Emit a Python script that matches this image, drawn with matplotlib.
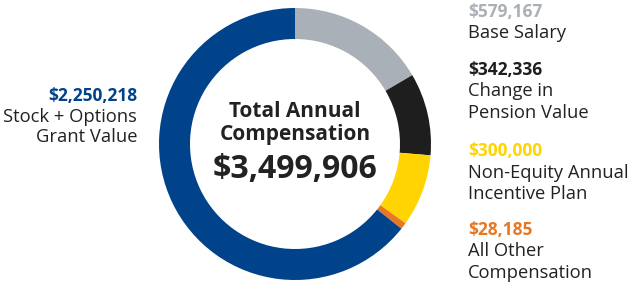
import matplotlib
matplotlib.use("Agg")
import matplotlib.pyplot as plt

plt.rcParams['font.family'] = ['Open Sans', 'DejaVu Sans']

categories = ["Base Salary", "Change in\nPension Value", "Non-Equity Annual\nIncentive Plan",
              "All Other\nCompensation", "Stock + Options\nGrant Value"]
values = [579167, 342336, 300000, 28185, 2250218]
value_labels = ["$579,167", "$342,336", "$300,000", "$28,185", "$2,250,218"]
total_label = "$3,499,906"
colors = ["#A9B0B7", "#1E1E1E", "#FFD400", "#E87722", "#00438A"]
label_colors = ["#A9B0B7", "#1E1E1E", "#FFD400", "#E87722", "#00438A"]
text_color = "#222222"

W, H = 630, 282
fig = plt.figure(figsize=(W / 100, H / 100), dpi=100)
ax = fig.add_axes([0, 0, 1, 1])

cx, cy, R = 295, H - 144, 136
ax.pie(values, colors=colors, startangle=90, counterclock=False,
       center=(cx, cy), radius=R, wedgeprops=dict(width=31, linewidth=0),
       frame=True)
ax.set_xlim(0, W)
ax.set_ylim(0, H)
ax.set_aspect('equal')
ax.axis('off')

def T(x, ytop, s, **kw):
    ax.text(x, H - ytop, s, va='baseline', **kw)

# center
T(cx, 117, "Total Annual", ha='center', fontsize=15, fontweight='bold', color=text_color)
T(cx, 140, "Compensation", ha='center', fontsize=15, fontweight='bold', color=text_color)
T(cx, 178, total_label, ha='center', fontsize=23, fontweight='bold', color=text_color)

# right labels
rx = 468
val_base = [17, 75, 156, 235]
for i in range(4):
    T(rx, val_base[i], value_labels[i], ha='left', fontsize=12.5, fontweight='bold',
      color=label_colors[i])
    lines = categories[i].split("\n")
    for j, ln in enumerate(lines):
        T(rx, val_base[i] + 21.5 * (j + 1), ln, ha='left', fontsize=13.2, color=text_color)

# left label
lx = 137
T(lx, 101, value_labels[4], ha='right', fontsize=12.5, fontweight='bold', color=label_colors[4])
for j, ln in enumerate(categories[4].split("\n")):
    T(lx, 101 + 20.5 * (j + 1), ln, ha='right', fontsize=13.2, color=text_color)

fig.savefig("out.png", dpi=100)
